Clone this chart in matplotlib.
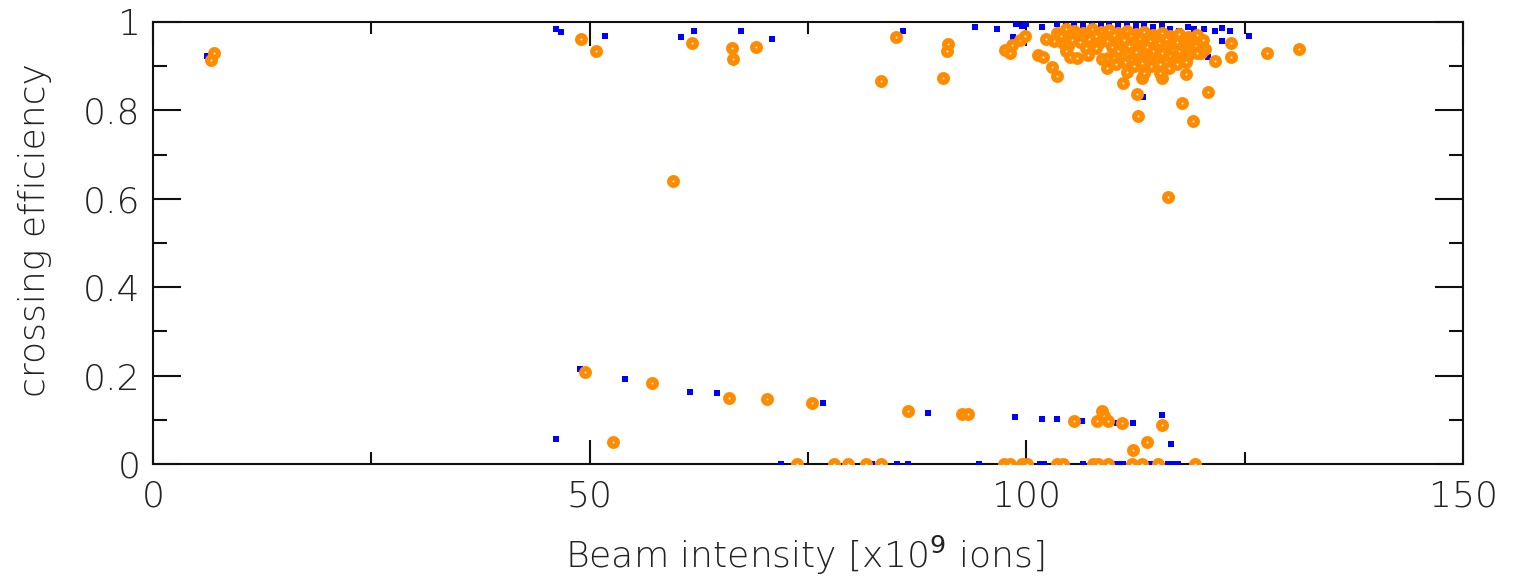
import matplotlib
matplotlib.use("Agg")
import matplotlib.pyplot as plt
from matplotlib.ticker import MultipleLocator, FuncFormatter

plt.rcParams['font.family'] = ['DejaVu Sans']

# ---- data: blue series (squares) ----
blue_x = [6.2, 6.9, 46.1, 46.7, 51.8, 60.5, 61.9, 67.3, 70.9, 85.9, 94.1, 96.6, 98.5,
          98.8, 99.5, 100.0, 101.8, 103.5, 104.5, 105.5, 106.5, 107.5, 108.5, 109.5,
          110.5, 111.5, 112.5, 113.5, 114.5, 115.5, 116.5, 117.5, 118.5, 119.2, 120.4,
          121.6, 122.4, 123.3, 122.4, 120.8, 125.5, 113.4, 104.0, 106.0, 108.0, 112.0,
          48.9, 54.0, 61.5, 64.6, 76.7, 88.7, 98.7, 101.8, 103.5, 106.4, 110.4, 112.2,
          115.5, 116.6, 46.1,
          71.9, 82.3, 85.2, 86.5, 94.6, 101.6, 102.0, 106.5, 110.4, 111.1, 114.2, 116.2,
          116.8, 117.4]
blue_y = [0.923, 0.930, 0.984, 0.977, 0.968, 0.966, 0.980, 0.980, 0.962, 0.980, 0.989, 0.984, 0.966,
          0.995, 0.990, 0.996, 0.989, 0.995, 0.990, 0.997, 0.992, 0.996, 0.990, 0.995,
          0.990, 0.996, 0.990, 0.995, 0.988, 0.992, 0.985, 0.980, 0.988, 0.984, 0.984,
          0.980, 0.986, 0.980, 0.957, 0.921, 0.968, 0.830, 0.970, 0.965, 0.970, 0.965,
          0.215, 0.192, 0.163, 0.160, 0.138, 0.115, 0.106, 0.102, 0.102, 0.097, 0.093, 0.093,
          0.111, 0.045, 0.057,
          0, 0, 0, 0, 0, 0, 0, 0, 0, 0, 0, 0,
          0, 0]

# ---- data: orange series (open markers) ----
orange_x = [6.6, 7.0, 49.0, 50.7, 61.7, 66.3, 66.4, 69.0, 85.1, 91.0, 90.9, 83.4, 90.5, 59.5,
            97.6, 98.1, 98.4, 99.3, 99.9, 101.3, 101.9, 102.9, 103.5, 111.1, 113.2, 112.7,
            112.8, 115.5, 118.3, 117.8, 120.8, 119.1, 121.6, 123.4, 123.4, 127.6, 131.2, 116.2,
            103.5, 104.5, 105.5, 106.5, 107.5, 108.5, 109.5, 110.5, 111.5, 112.5, 113.5, 114.5,
            115.5, 116.5, 117.5, 118.5, 119.5, 120.2,
            104.0, 105.0, 106.0, 107.0, 108.0, 109.0, 110.0, 111.0, 112.0, 113.0, 114.0, 115.0,
            116.0, 117.0, 118.0, 119.0,
            102.2, 103.2, 104.2, 105.2, 106.2, 107.2, 108.2, 109.2, 110.2, 111.2, 112.2, 113.2,
            114.2, 115.2, 116.2, 117.2, 118.2, 119.3, 120.5,
            104.8, 106.8, 109.8, 110.8, 111.8, 112.8, 113.8, 114.8, 115.8, 116.8, 117.8, 118.8,
            120.0,
            104.5, 105.0, 105.8, 107.1, 108.0, 108.7, 109.4, 110.5, 111.5, 112.5, 113.5, 114.5,
            115.5, 116.5, 117.5, 118.5, 119.5,
            110.0, 111.0, 112.0, 113.0, 114.0, 115.0, 116.0, 117.0, 118.0,
            109.2, 110.3, 111.3, 112.3, 113.3, 114.3, 115.3, 116.3, 117.3, 118.3,
            111.5, 113.5, 115.3,
            49.5, 57.1, 66.0, 70.3, 75.5, 52.7, 86.5, 92.6, 93.3, 105.5, 108.7, 108.9, 108.1,
            109.4, 111.0, 115.5, 113.8, 112.2,
            73.7, 78.0, 79.6, 81.6, 83.4, 97.4, 98.1, 99.5, 100.1, 103.5, 104.2, 107.6, 108.2,
            109.4, 112.1, 113.2, 115.1, 119.3]
orange_y = [0.915, 0.930, 0.962, 0.934, 0.952, 0.941, 0.916, 0.943, 0.966, 0.950, 0.934, 0.866, 0.873, 0.640,
            0.937, 0.930, 0.948, 0.959, 0.968, 0.925, 0.921, 0.898, 0.878, 0.862, 0.873, 0.837,
            0.787, 0.873, 0.882, 0.817, 0.842, 0.776, 0.912, 0.952, 0.921, 0.930, 0.939, 0.604,
            0.975, 0.985, 0.980, 0.975, 0.985, 0.978, 0.982, 0.975, 0.980, 0.972, 0.978, 0.970,
            0.975, 0.968, 0.972, 0.965, 0.970, 0.960,
            0.968, 0.970, 0.966, 0.972, 0.968, 0.966, 0.970, 0.965, 0.968, 0.962, 0.966, 0.960,
            0.962, 0.958, 0.960, 0.955,
            0.962, 0.958, 0.952, 0.960, 0.955, 0.962, 0.950, 0.958, 0.952, 0.960, 0.955, 0.948,
            0.958, 0.952, 0.945, 0.955, 0.948, 0.945, 0.940,
            0.945, 0.942, 0.944, 0.940, 0.946, 0.940, 0.944, 0.938, 0.942, 0.936, 0.940, 0.935,
            0.930,
            0.934, 0.921, 0.919, 0.925, 0.941, 0.916, 0.918, 0.935, 0.928, 0.932, 0.925, 0.935,
            0.930, 0.922, 0.935, 0.925, 0.930,
            0.918, 0.920, 0.915, 0.918, 0.912, 0.916, 0.910, 0.914, 0.918,
            0.896, 0.905, 0.910, 0.900, 0.908, 0.900, 0.905, 0.895, 0.905, 0.910,
            0.888, 0.885, 0.885,
            0.208, 0.183, 0.150, 0.147, 0.138, 0.050, 0.120, 0.113, 0.113, 0.097, 0.120, 0.108, 0.097,
            0.097, 0.093, 0.088, 0.050, 0.032,
            0, 0, 0, 0, 0, 0, 0, 0, 0, 0, 0, 0, 0,
            0, 0, 0, 0, 0]

x_label = "Beam intensity [x10$^{9}$ ions]"
y_label = "crossing efficiency"

fig = plt.figure(figsize=(15.16, 5.82), dpi=100)
ax = fig.add_axes([153/1516, 1 - 464/582, (1463 - 153)/1516, (464 - 22)/582])

ax.plot(blue_x, blue_y, linestyle='none', marker='s', markersize=5,
        markerfacecolor='#0000ff', markeredgewidth=0, zorder=3)
ax.plot(orange_x, orange_y, linestyle='none', marker='o', markersize=5.4,
        markerfacecolor='white', markeredgecolor='#ff8c00', markeredgewidth=3.9, zorder=4)

ax.set_xlim(0, 150)
ax.set_ylim(0, 1)
ax.xaxis.set_major_locator(MultipleLocator(50))
ax.xaxis.set_minor_locator(MultipleLocator(25))
ax.yaxis.set_major_locator(MultipleLocator(0.2))
ax.yaxis.set_minor_locator(MultipleLocator(0.1))
ax.yaxis.set_major_formatter(FuncFormatter(lambda v, p: "%g" % round(v, 2)))

for s in ax.spines.values():
    s.set_linewidth(1.5)
    s.set_color('#111111')

ax.tick_params(axis='both', which='both', direction='in', top=True, right=True,
               width=1.5, color='#111111', labelsize=26)
ax.tick_params(axis='x', which='major', length=17, pad=11)
ax.tick_params(axis='x', which='minor', length=8.5)
ax.tick_params(axis='y', which='major', length=20, pad=9)
ax.tick_params(axis='y', which='minor', length=10)
for lab in ax.get_xticklabels() + ax.get_yticklabels():
    lab.set_fontweight('light')
    lab.set_color('#222222')

fig.text(805/1516, 1 - 555/582, x_label, ha='center', va='center', fontsize=26,
         fontweight='light', color='#222222')
fig.text(35/1516, 1 - 230/582, y_label, ha='center', va='center', rotation=90,
         fontsize=26, fontweight='light', color='#222222')

fig.savefig("out.png", dpi=100)
